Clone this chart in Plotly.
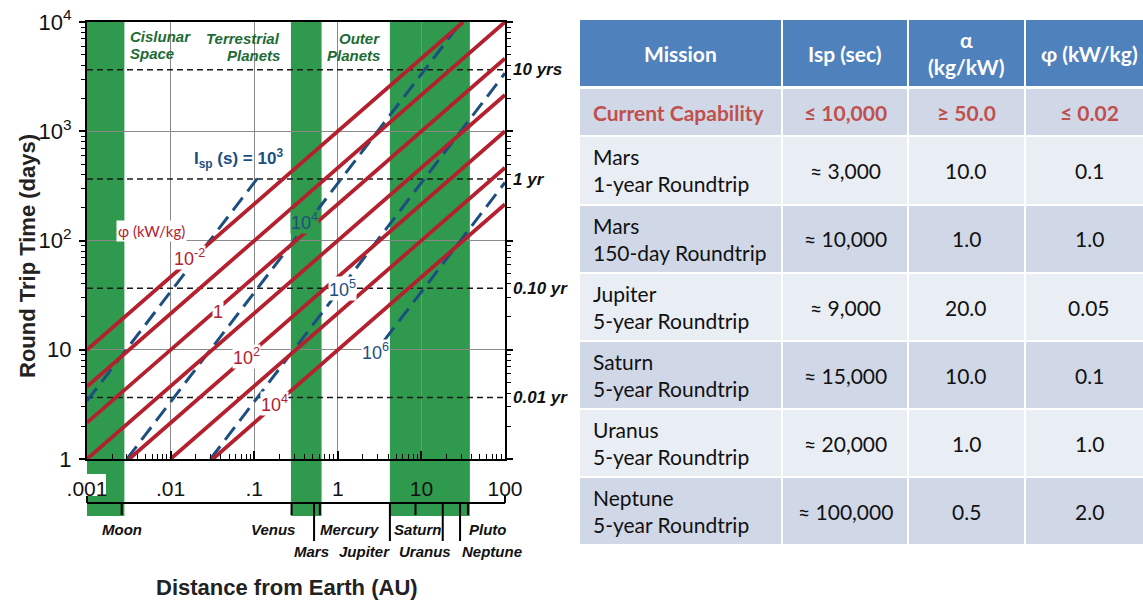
import math
import plotly.graph_objects as go

# ---------------- data ----------------
# phi (kW/kg) lines: endpoints (distance AU, round-trip days)
phi_labels = ["10<sup>-2</sup>", "10<sup>-1</sup>", "1", "10", "10<sup>2</sup>", "10<sup>3</sup>", "10<sup>4</sup>"]
phi_start_au = [0.001, 0.001, 0.001, 0.001, 0.0032, 0.01, 0.032]
phi_start_days = [10, 4.6, 2.15, 1, 1, 1, 1]
phi_end_au = [31.6, 100, 100, 100, 100, 100, 100]
phi_end_days = [10000, 10000, 4640, 2150, 1000, 464, 215]
phi_shown_labels = ["10<sup>-2</sup>", "1", "10<sup>2</sup>", "10<sup>4</sup>"]
phi_label_au = [0.0166, 0.0374, 0.080, 0.173]
phi_label_days = [70, 22, 8.6, 3.2]

# Isp (s) lines
isp_labels = ["10<sup>3</sup>", "10<sup>4</sup>", "10<sup>5</sup>", "10<sup>6</sup>"]
isp_start_au = [0.001, 0.003, 0.03, 3.6]
isp_start_days = [3.4, 1, 1, 12.2]
isp_end_au = [0.118, 30, 100, 100]
isp_end_days = [400, 10000, 3400, 340]
isp_label_au = [0.405, 1.15, 2.8]
isp_label_days = [150, 36, 9.7]

# reference times
year_days = [3652.5, 365.25, 36.525, 3.6525]
year_labels = ["10 yrs", "1 yr", "0.10 yr", "0.01 yr"]

# shaded destination bands (AU)
band_start_au = [0.001, 0.275, 4.2]
band_end_au = [0.0028, 0.64, 38]

# planets (minimum distance from Earth, AU)
planet_names = ["Moon", "Venus", "Mars", "Mercury", "Jupiter", "Saturn", "Uranus", "Neptune", "Pluto"]
planet_au = [0.0026, 0.28, 0.52, 0.61, 4.2, 8.5, 18, 29, 36]
planet_long_tick = [False, False, True, False, True, False, True, True, False]

# axes
x_tickvals = [0.001, 0.01, 0.1, 1, 10, 100]
x_ticktext = [".001", ".01", ".1", "1", "10", "100"]
y_tickvals = [1, 10, 100, 1000, 10000]
y_ticktext = ["1", "10", "10<sup>2</sup>", "10<sup>3</sup>", "10<sup>4</sup>"]

# table
table_columns = ["Mission", "Isp (sec)", "α<br>(kg/kW)", "φ (kW/kg)"]
table_missions = ["Current Capability", "Mars<br>1-year Roundtrip", "Mars<br>150-day Roundtrip",
                  "Jupiter<br>5-year Roundtrip", "Saturn<br>5-year Roundtrip",
                  "Uranus<br>5-year Roundtrip", "Neptune<br>5-year Roundtrip"]
table_isp = ["≤ 10,000", "≈ 3,000", "≈ 10,000", "≈ 9,000", "≈ 15,000", "≈ 20,000", "≈ 100,000"]
table_alpha = ["≥ 50.0", "10.0", "1.0", "20.0", "10.0", "1.0", "0.5"]
table_phi = ["≤ 0.02", "0.1", "1.0", "0.05", "0.1", "1.0", "2.0"]

# ---------------- layout / style ----------------
FIG_W, FIG_H = 1143, 614
L, R, T, B = 87, 505, 22, 459
PW, PH = R - L, B - T


def xp(px):
    return (px - L) / PW


def yp(py):
    return (B - py) / PH


RED = "#b5202e"
BLUE = "#1c4f80"
GREEN = "#2f9a4e"
DGREEN = "#1d6b36"
NUM_FONT = "Liberation Sans Narrow, Arial Narrow, Liberation Sans, Arial, sans-serif"
SANS = "Liberation Sans, Arial, Helvetica, sans-serif"
TFONT = "Lato, Carlito, Calibri, sans-serif"

fig = go.Figure()

# year dashed lines
for d in year_days:
    fig.add_trace(go.Scatter(x=[x_tickvals[0], x_tickvals[-1]], y=[d, d], mode="lines",
                             line=dict(color="#1a1a1a", width=1.5, dash="6px,4px"),
                             hoverinfo="skip", showlegend=False))

# Isp lines (blue dashed)
for i in range(len(isp_labels)):
    fig.add_trace(go.Scatter(x=[isp_start_au[i], isp_end_au[i]], y=[isp_start_days[i], isp_end_days[i]],
                             mode="lines", line=dict(color=BLUE, width=3, dash="16px,8px"),
                             hoverinfo="skip", showlegend=False, name="Isp " + isp_labels[i]))

# phi lines (red)
for i in range(len(phi_labels)):
    fig.add_trace(go.Scatter(x=[phi_start_au[i], phi_end_au[i]], y=[phi_start_days[i], phi_end_days[i]],
                             mode="lines", line=dict(color=RED, width=3.8),
                             hoverinfo="skip", showlegend=False, name="phi " + phi_labels[i]))

shapes = []
# green bands (extend below the axis)
for a0, a1 in zip(band_start_au, band_end_au):
    shapes.append(dict(type="rect", xref="x", yref="paper", x0=a0, x1=a1, y0=yp(516), y1=1,
                       fillcolor=GREEN, line=dict(width=0), layer="below"))
# white box behind ".001"
shapes.append(dict(type="rect", xref="paper", yref="paper", x0=xp(87), x1=xp(106), y0=yp(496), y1=yp(474),
                   fillcolor="white", line=dict(width=0), layer="below"))
# bracket axis under the plot
shapes.append(dict(type="line", xref="paper", yref="paper", x0=xp(87), x1=xp(505), y0=yp(503), y1=yp(503),
                   line=dict(color="black", width=2)))
for bx in (87, 505):
    shapes.append(dict(type="line", xref="paper", yref="paper", x0=xp(bx), x1=xp(bx), y0=yp(503), y1=yp(496),
                       line=dict(color="black", width=2)))
# planet ticks
for au, lng in zip(planet_au, planet_long_tick):
    shapes.append(dict(type="line", xref="x", yref="paper", x0=au, x1=au, y0=yp(503), y1=yp(541 if lng else 515),
                       line=dict(color="black", width=2)))

# table cells
cols_px = [(580, 781), (783, 907), (909, 1024), (1026, 1150)]
header_px = (20, 86)
rows_px = [(89, 135), (137, 204), (206, 272), (274, 340), (342, 408), (410, 476), (478, 544)]
HEAD_BG = "#4f81bd"
ROW_BG = ["#d0d8e8", "#e9edf4"]
for c0, c1 in cols_px:
    shapes.append(dict(type="rect", xref="paper", yref="paper", x0=xp(c0), x1=xp(c1),
                       y0=yp(header_px[1]), y1=yp(header_px[0]), fillcolor=HEAD_BG, line=dict(width=0)))
    for r, (r0, r1) in enumerate(rows_px):
        shapes.append(dict(type="rect", xref="paper", yref="paper", x0=xp(c0), x1=xp(c1),
                           y0=yp(r1), y1=yp(r0), fillcolor=ROW_BG[r % 2], line=dict(width=0)))

fig.update_layout(shapes=shapes)

anns = []


def add_text(**kw):
    kw.setdefault("xanchor", "center")
    kw.setdefault("yanchor", "middle")
    kw.setdefault("showarrow", False)
    anns.append(kw)


# line labels
for lab, a, d in zip(phi_shown_labels, phi_label_au, phi_label_days):
    add_text(x=math.log10(a), y=math.log10(d), xref="x", yref="y", text=lab,
             font=dict(family=NUM_FONT, size=18, color=RED), bgcolor="white", borderpad=0)
isp_bg = [GREEN, "white", "white"]
for lab, a, d, bg in zip(isp_labels[1:], isp_label_au, isp_label_days, isp_bg):
    add_text(x=math.log10(a), y=math.log10(d), xref="x", yref="y", text=lab,
             font=dict(family=NUM_FONT, size=18, color=BLUE), bgcolor=bg, borderpad=0)
add_text(x=xp(238), y=yp(158), xref="paper", yref="paper",
         text="<b>I<sub>sp</sub> (s) = " + isp_labels[0] + "</b>",
         font=dict(family=NUM_FONT, size=17, color=BLUE))
add_text(x=xp(116), y=yp(231), xref="paper", yref="paper", xanchor="left",
         text="φ (kW/kg)", font=dict(family=TFONT, size=15, color=RED),
         bgcolor="white", borderpad=1)

# band titles
band_title_items = [("Cislunar", 128, 36, "left"), ("Space", 128, 54, "left"),
                    ("Terrestrial", 282, 38, "right"), ("Planets", 282, 56, "right"),
                    ("Outer", 382, 39, "right"), ("Planets", 382, 56, "right")]
for txt, px, py, anc in band_title_items:
    add_text(x=xp(px), y=yp(py), xref="paper", yref="paper", xanchor=anc,
             text="<b><i>" + txt + "</i></b>", font=dict(family=SANS, size=15, color=DGREEN))

# right-hand year labels
for lab, d in zip(year_labels, year_days):
    add_text(x=xp(511), y=math.log10(d), xref="paper", yref="y", xanchor="left",
             text="<b><i>" + lab + "</i></b>", font=dict(family=SANS, size=17, color="#111"))

# planet labels (pixel placement)
planet_label_pos = {"Moon": (122, 529, "center"), "Venus": (297, 529, "right"),
                    "Mercury": (318, 529, "left"), "Saturn": (392, 529, "left"),
                    "Pluto": (467, 529, "left"), "Mars": (311, 551, "center"),
                    "Jupiter": (392, 551, "right"), "Uranus": (425, 551, "center"),
                    "Neptune": (460, 551, "left")}
for name in planet_names:
    px, py, anc = planet_label_pos[name]
    add_text(x=xp(px), y=yp(py), xref="paper", yref="paper", xanchor=anc,
             text="<b><i>" + name + "</i></b>", font=dict(family=SANS, size=15, color="#111"))

# axis titles
add_text(x=xp(27), y=yp(256), xref="paper", yref="paper", textangle=-90,
         text="<b>Round Trip Time (days)</b>", font=dict(family=SANS, size=22, color="#222"))
add_text(x=xp(287), y=yp(587), xref="paper", yref="paper",
         text="<b>Distance from Earth (AU)</b>", font=dict(family=SANS, size=22, color="#222"))

# table text
for ci, (c0, c1) in enumerate(cols_px):
    cx = (c0 + c1) / 2 if ci < 3 else 1089
    add_text(x=xp(cx), y=yp((header_px[0] + header_px[1]) / 2), xref="paper", yref="paper",
             text="<b>" + table_columns[ci] + "</b>", font=dict(family=TFONT, size=21, color="white"))
cols_vals = [table_isp, table_alpha, table_phi]
for r, (r0, r1) in enumerate(rows_px):
    cy = yp((r0 + r1) / 2)
    first = (r == 0)
    color = "#c0504d" if first else "#111"
    wrap = (lambda s: "<b>" + s + "</b>") if first else (lambda s: s)
    add_text(x=xp(591), y=cy, xref="paper", yref="paper", xanchor="left", align="left",
             text=wrap(table_missions[r]), font=dict(family=TFONT, size=21, color=color))
    for ci in range(3):
        c0, c1 = cols_px[ci + 1]
        cx = (c0 + c1) / 2 if ci < 2 else 1089
        add_text(x=xp(cx), y=cy, xref="paper", yref="paper",
                 text=wrap(cols_vals[ci][r]), font=dict(family=TFONT, size=21, color=color))

fig.update_layout(annotations=anns)

minor_x = [m * 10 ** e for e in range(-3, 2) for m in range(2, 10)]
minor_y = [m * 10 ** e for e in range(0, 4) for m in range(2, 10)]

fig.update_xaxes(type="log", range=[-3, 2], tickmode="array", tickvals=x_tickvals, ticktext=x_ticktext,
                 ticks="inside", ticklen=8, tickwidth=1.5, tickcolor="black",
                 showline=True, linecolor="black", linewidth=2, mirror=True,
                 showgrid=True, gridcolor="#8a8a8a", gridwidth=1.2, zeroline=False,
                 tickfont=dict(family=NUM_FONT, size=21, color="#111"), ticklabelstandoff=10,
                 minor=dict(tickmode="array", tickvals=minor_x, ticks="inside", ticklen=5, tickwidth=1.3,
                            tickcolor="black", showgrid=False),
                 automargin=False, fixedrange=True)
fig.update_yaxes(type="log", range=[0, 4], tickmode="array", tickvals=y_tickvals, ticktext=y_ticktext,
                 ticks="outside", ticklen=6, tickwidth=1.5, tickcolor="black",
                 showline=True, linecolor="black", linewidth=2, mirror="ticks",
                 showgrid=True, gridcolor="#8a8a8a", gridwidth=1.2, zeroline=False,
                 tickfont=dict(family=NUM_FONT, size=22, color="#111"), ticklabelstandoff=3,
                 minor=dict(tickmode="array", tickvals=minor_y, ticks="outside", ticklen=4, tickwidth=1.3,
                            tickcolor="black", showgrid=False),
                 automargin=False, fixedrange=True)

fig.update_layout(width=FIG_W, height=FIG_H, autosize=False,
                  margin=dict(l=L, r=FIG_W - R, t=T, b=FIG_H - B, pad=0),
                  paper_bgcolor="white", plot_bgcolor="white", showlegend=False,
                  hovermode=False)

fig.write_html("out.html", config={"displayModeBar": False},
               post_script="document.body.style.margin='0px';document.body.style.overflow='hidden';")
